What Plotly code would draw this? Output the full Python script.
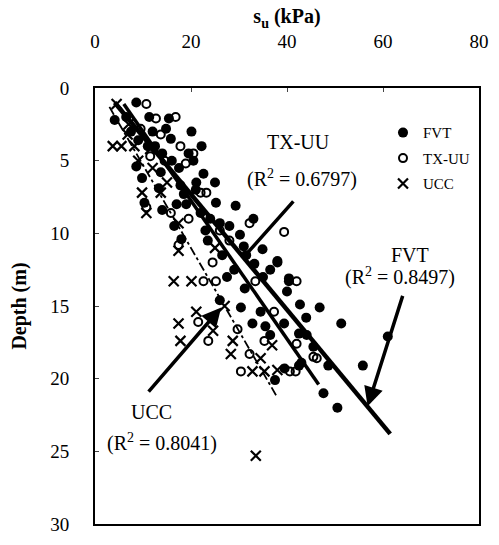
import plotly.graph_objects as go

# ---- data (s_u in kPa, depth in m) ----
fvt_su = [8.6, 4.1, 11.3, 15.4, 14.8, 20.1, 22.2, 15.8, 14.0, 8.6, 9.8, 13.7, 20.5, 22.6, 21.1,
          17.8, 13.3, 10.3, 14.0, 18.0, 17.0, 22.0, 25.2, 29.3, 30.2, 31.0, 34.9, 38.0, 33.2, 26.0,
          40.4, 38.0, 36.5, 40.4, 40.0, 42.7, 46.8, 51.3, 32.8, 35.5, 39.4, 34.5, 31.2, 42.5, 43.0,
          55.8, 44.1, 48.6, 42.5, 47.6, 50.5, 61.0, 37.5, 39.5, 36.5, 28.0, 24.0, 26.5, 29.0, 27.5,
          30.4, 44.0, 45.5, 23.5, 19.0, 12.0, 17.5, 25.0, 33.0, 6.5, 11.0, 16.5, 19.5,
          7.5, 9.0, 12.5, 16.0, 18.5, 21.0, 23.0, 26.0, 31.5, 35.0]
fvt_d = [1.0, 2.2, 2.0, 2.1, 2.8, 3.0, 4.0, 3.5, 4.5, 5.4, 6.2, 5.8, 5.0, 5.9, 6.5,
         6.7, 6.9, 7.9, 8.4, 10.4, 8.0, 8.6, 7.9, 8.1, 10.1, 10.9, 11.1, 12.0, 12.1, 14.6,
         13.3, 11.9, 12.5, 13.1, 14.0, 14.9, 15.1, 16.2, 16.2, 16.4, 16.2, 15.4, 13.8, 16.9, 18.9,
         19.1, 17.0, 19.1, 19.1, 21.0, 22.0, 17.1, 20.1, 19.3, 17.0, 9.5, 9.0, 11.5, 12.5, 13.0,
         15.1, 15.8, 17.8, 10.5, 8.0, 3.0, 5.5, 6.5, 9.0, 2.0, 4.0, 9.5, 4.5,
         3.0, 3.6, 4.0, 5.0, 7.3, 7.0, 9.8, 9.3, 11.5, 13.0]

tx_su = [10.7, 12.7, 16.8, 13.7, 17.8, 18.9, 22.0, 23.2, 10.7, 15.8, 17.4, 32.2, 39.4, 42.0, 33.4,
         22.6, 25.2, 21.5, 23.6, 37.3, 29.7, 32.2, 30.4, 35.3, 42.0, 46.2, 45.5, 40.6, 41.8, 26.0,
         28.0, 14.5, 20.5, 11.5, 9.5, 24.5, 19.5]
tx_d = [1.1, 2.1, 2.0, 3.2, 4.0, 5.2, 7.2, 7.2, 8.2, 8.6, 10.8, 9.3, 9.9, 13.3, 13.3,
        13.3, 13.3, 16.1, 17.4, 15.4, 16.6, 18.3, 19.5, 17.4, 17.6, 18.6, 18.5, 19.5, 19.5, 9.8,
        10.5, 5.0, 4.5, 4.7, 2.8, 12.0, 9.0]

ucc_su = [4.5, 6.8, 5.5, 8.2, 3.7, 9.8, 13.7, 10.7, 17.4, 17.4, 16.4, 20.1, 21.1, 17.4, 17.8,
          24.6, 28.7, 28.3, 34.5, 32.8, 35.3, 38.0, 36.9, 33.5, 27.0, 12.0, 15.0, 7.0, 25.0,
          9.0, 11.5]
ucc_d = [1.1, 3.2, 4.0, 4.0, 4.0, 7.2, 7.2, 8.6, 9.3, 11.2, 13.3, 13.3, 15.4, 16.2, 17.4,
         16.7, 17.4, 18.3, 18.6, 19.5, 19.5, 19.4, 17.7, 25.3, 15.0, 5.5, 6.5, 2.5, 11.0,
         5.0, 4.2]

# fitted trend lines (end points)
fvt_fit_su, fvt_fit_d = [4.1, 61.5], [1.0, 23.8]
tx_fit_su, tx_fit_d = [6.0, 46.6], [1.1, 20.4]
ucc_fit_su, ucc_fit_d = [3.0, 38.0], [1.3, 21.3]

x_ticks = [0, 20, 40, 60, 80]
y_ticks = [0, 5, 10, 15, 20, 25, 30]

SERIF = "Liberation Serif, Times New Roman, serif"

fig = go.Figure()
fig.add_trace(go.Scatter(x=fvt_fit_su, y=fvt_fit_d, mode="lines",
                         line=dict(color="black", width=4.5), showlegend=False, hoverinfo="skip"))
fig.add_trace(go.Scatter(x=tx_fit_su, y=tx_fit_d, mode="lines",
                         line=dict(color="black", width=3.5), showlegend=False, hoverinfo="skip"))
fig.add_trace(go.Scatter(x=ucc_fit_su, y=ucc_fit_d, mode="lines",
                         line=dict(color="black", width=1.8, dash="dashdot"), showlegend=False,
                         hoverinfo="skip"))

fig.add_trace(go.Scatter(x=fvt_su, y=fvt_d, mode="markers", name="FVT", legendgroup="a",
                         marker=dict(symbol="circle", size=10, color="black")))
fig.add_trace(go.Scatter(x=tx_su, y=tx_d, mode="markers", name="TX-UU", legendgroup="b",
                         marker=dict(symbol="circle-open", size=8, color="black",
                                     line=dict(width=2, color="black"))))
fig.add_trace(go.Scatter(x=ucc_su, y=ucc_d, mode="markers", name="UCC", legendgroup="c",
                         marker=dict(symbol="x-thin-open", size=10, color="black",
                                     line=dict(width=2.2, color="black"))))

def label(x, y, t):
    fig.add_annotation(x=x, y=y, text=t, showarrow=False, xref="x", yref="y",
                       font=dict(family=SERIF, size=20, color="black"))

def arrow(x0, y0, x1, y1, head=2):
    fig.add_annotation(x=x1, y=y1, ax=x0, ay=y0, xref="x", yref="y", axref="x", ayref="y",
                       text="", showarrow=True, arrowhead=head, arrowsize=1.1, arrowwidth=3.5,
                       arrowcolor="black")

label(42.35, 3.7, "TX-UU")
label(43.2, 6.2, "(R<sup>2</sup> = 0.6797)")
label(65.7, 11.5, "FVT")
label(63.6, 13.0, "(R<sup>2</sup> = 0.8497)")
label(11.7, 22.3, "UCC")
label(13.9, 24.4, "(R<sup>2</sup> = 0.8041)")

arrow(41.6, 7.7, 30.8, 11.7, head=0)
arrow(64.2, 14.2, 56.8, 21.9)
arrow(10.9, 21.0, 26.3, 15.1)

fig.update_layout(
    width=499, height=545,
    margin=dict(l=95, r=13, t=88, b=10),
    plot_bgcolor="white", paper_bgcolor="white",
    font=dict(family=SERIF, size=19, color="black"),
    legend=dict(x=0.75, y=0.935, xanchor="left", yanchor="top", bgcolor="rgba(0,0,0,0)",
                font=dict(family=SERIF, size=15), tracegroupgap=3, itemwidth=30),
    xaxis=dict(range=[0, 80], side="top", tickvals=x_ticks, ticks="inside", ticklen=4,
               showline=True, mirror=True, linecolor="black", linewidth=2, showgrid=False,
               zeroline=False, ticklabelstandoff=30,
               title=dict(text="<b>s<sub>u</sub> (kPa)</b>", font=dict(size=20), standoff=2)),
    yaxis=dict(range=[30, 0], tickvals=y_ticks, ticks="inside", ticklen=4,
               showline=True, mirror=True, linecolor="black", linewidth=2, showgrid=False,
               zeroline=False, ticklabelstandoff=20,
               title=dict(text="<b>Depth (m)</b>", font=dict(size=20), standoff=18)),
)

fig.write_html("out.html")
